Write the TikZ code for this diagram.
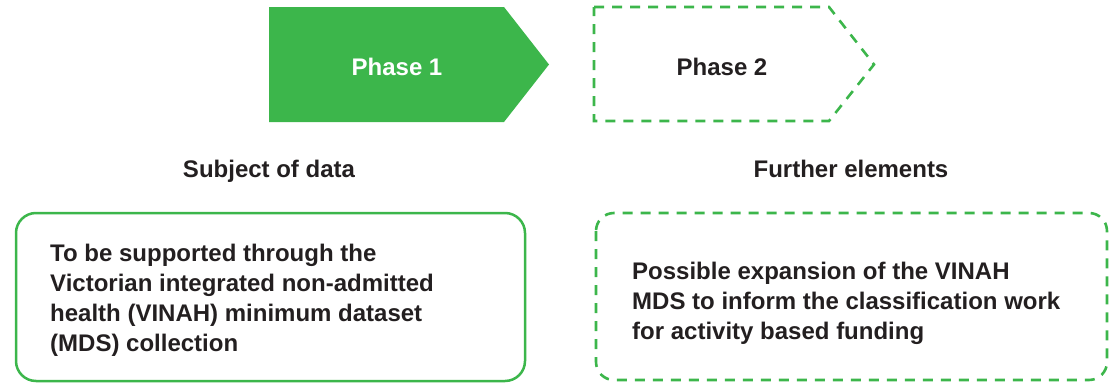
\documentclass[tikz,border=0pt]{standalone}
\usepackage{fontspec}
\setmainfont{Liberation Sans}
\definecolor{leaf}{HTML}{3CB64B}
\definecolor{ink}{HTML}{231F20}
\begin{document}
\begin{tikzpicture}[x=1pt, y=-1pt,
  every node/.style={inner sep=0pt, font=\fontsize{24}{30}\selectfont\bfseries, text=ink},
  solidpanel/.style={draw=leaf, line width=2.5pt, rounded corners=20pt},
  dashedline/.style={draw=leaf, line width=2.6pt, dash pattern=on 10pt off 8pt},
  dashedpanel/.style={dashedline, rounded corners=18pt},
  bodytext/.style={anchor=west, align=left}]
\path[use as bounding box] (0,0) rectangle (1116,383);

% phase arrows
\fill[leaf] (269,7) -- (504,7) -- (549,64.5) -- (504,122) -- (269,122) -- cycle;
\draw[dashedline] (594,7) -- (829,7) -- (874,64.5) -- (829,121) -- (594,121) -- cycle;
\node[anchor=base, text=white] (p1) at (397,75) {Phase 1};
\node[anchor=base] (p2) at (722,75) {Phase 2};

% column headings
\node[anchor=base] (subj) at (269,177) {Subject of data};
\node[anchor=base] (further) at (851,177) {Further elements};

% content panels
\draw[solidpanel] (16,213) rectangle (525,381);
\draw[dashedpanel] (596,213) rectangle (1107,380);
\node[bodytext] (now) at (50,300) {To be supported through the\\Victorian integrated non-admitted\\health (VINAH) minimum dataset\\(MDS) collection};
\node[bodytext] (later) at (632,303) {Possible expansion of the VINAH\\MDS to inform the classification work\\for activity based funding};
\end{tikzpicture}
\end{document}
